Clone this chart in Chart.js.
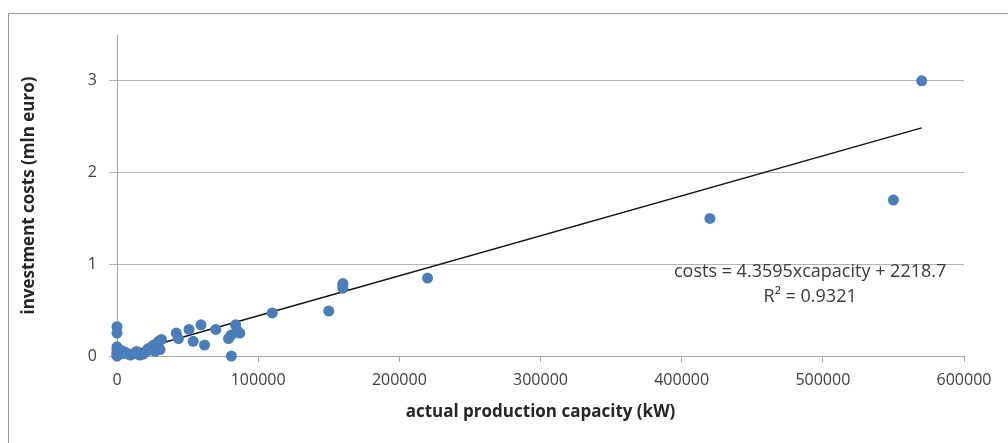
<!DOCTYPE html>
<html>
<head>
<meta charset="utf-8">
<script src="https://cdn.jsdelivr.net/npm/chart.js@4.4.1/dist/chart.umd.min.js"></script>
<style>
  html, body { margin: 0; padding: 0; background: #fff; }
  #wrap { width: 1008px; height: 443px; position: relative; }
</style>
</head>
<body>
<div id="wrap"><canvas id="c"></canvas></div>
<script>
// capacity (kW) and investment costs (mln euro)
const capacity = [
  0, 0, 0, 0, 0, 0, 0, 0,
  1000, 2000, 3000, 4500, 6000, 8000, 9500, 12000, 14000, 16000, 18500,
  21000, 22000, 24500, 26000, 27000, 28000, 29500, 30500, 31500,
  42000, 43500, 51000, 54000, 59500, 62000, 70000,
  79000, 81000, 81000, 84000, 85000, 87000,
  110000, 150000, 160000, 160000, 160000, 220000,
  420000, 550000, 570000
];
const costs = [
  0.32, 0.25, 0.10, 0.07, 0.04, 0.02, 0.0, 0.01,
  0.05, 0.02, 0.06, 0.03, 0.04, 0.02, 0.01, 0.03, 0.05, 0.01, 0.02,
  0.05, 0.08, 0.10, 0.12, 0.05, 0.07, 0.16, 0.07, 0.18,
  0.25, 0.19, 0.29, 0.16, 0.34, 0.12, 0.29,
  0.19, 0.23, 0.0, 0.34, 0.28, 0.25,
  0.47, 0.49, 0.79, 0.77, 0.74, 0.85,
  1.5, 1.7, 3.0
];
const xTicks = [0, 100000, 200000, 300000, 400000, 500000, 600000];
const yTicks = [0, 1, 2, 3];

// trend line as printed on the chart (euro)
const slope = 4.3595;
const intercept = 2218.7;
const rSquared = 0.9321;
const trendX = [0, 570000];

const points = capacity.map((x, i) => ({ x: x, y: costs[i] }));
const trend = trendX.map(x => ({ x: x, y: (slope * x + intercept) / 1e6 }));

const frame = {
  id: "frame",
  beforeDraw: (chart) => {
    const ctx = chart.ctx;
    ctx.save();
    ctx.fillStyle = "#fff";
    ctx.fillRect(0, 0, chart.width, chart.height);
    ctx.strokeStyle = "#9a9a9a";
    ctx.lineWidth = 1;
    ctx.strokeRect(8.5, 13.5, 1200, 600);
    ctx.restore();
  },
  afterDatasetsDraw: (chart) => {
    const ctx = chart.ctx;
    const xs = chart.scales.x, ys = chart.scales.y;
    const cx = xs.getPixelForValue(491000);
    const cy = ys.getPixelForValue(0.92);
    ctx.save();
    ctx.fillStyle = "#3a3a3a";
    ctx.font = "18px 'Open Sans'";
    ctx.textAlign = "center";
    ctx.textBaseline = "middle";
    ctx.fillText("costs = " + slope + "xcapacity + " + intercept, cx, cy);
    ctx.fillText("R\u00b2 = " + rSquared, cx, cy + 25);
    ctx.restore();
  },
};

Chart.defaults.font.family = "'Open Sans', sans-serif";
Chart.defaults.color = "#404040";

new Chart(document.getElementById("c"), {
  type: "scatter",
  data: {
    datasets: [
      {
        label: "costs",
        data: points,
        backgroundColor: "#4a7ebb",
        borderWidth: 0,
        pointRadius: 5.5,
        pointHoverRadius: 5.5,
        clip: false,
      },
      {
        label: "trend",
        type: "line",
        data: trend,
        borderColor: "#111",
        borderWidth: 1.5,
        pointRadius: 0,
        fill: false,
        clip: false,
      },
    ],
  },
  options: {
    responsive: true,
    maintainAspectRatio: false,
    animation: false,
    events: [],
    layout: { padding: { left: 0, top: 35, right: 44, bottom: 0 } },
    plugins: { legend: { display: false }, tooltip: { enabled: false } },
    scales: {
      x: {
        type: "linear",
        min: 0,
        max: 600000,
        afterBuildTicks: (s) => { s.ticks = xTicks.map(v => ({ value: v })); },
        afterFit: (s) => { s.height = 87; s.paddingRight = 0; s.paddingLeft = 0; },
        ticks: {
          font: { size: 16 },
          padding: 9,
          maxRotation: 0,
          autoSkip: false,
          callback: (v) => String(v),
        },
        grid: { drawOnChartArea: false, drawTicks: true, tickLength: 6, color: "#a6a6a6" },
        border: { color: "#a6a6a6" },
        title: {
          display: true,
          text: "actual production capacity (kW)",
          font: { size: 17, weight: "bold" },
          color: "#262626",
          padding: { top: 4, bottom: 21 },
        },
      },
      y: {
        type: "linear",
        min: 0,
        max: 3.5,
        afterBuildTicks: (s) => { s.ticks = yTicks.map(v => ({ value: v })); },
        afterFit: (s) => { s.width = 117; },
        ticks: { font: { size: 16 }, padding: 12 },
        grid: { drawOnChartArea: true, drawTicks: true, tickLength: 8, color: "#b4b4b4" },
        border: { color: "#a6a6a6" },
        title: {
          display: true,
          text: "investment costs (mln euro)",
          font: { size: 17, weight: "bold" },
          color: "#262626",
          padding: { top: 19, bottom: 0 },
        },
      },
    },
  },
  plugins: [frame],
});
</script>
</body>
</html>
